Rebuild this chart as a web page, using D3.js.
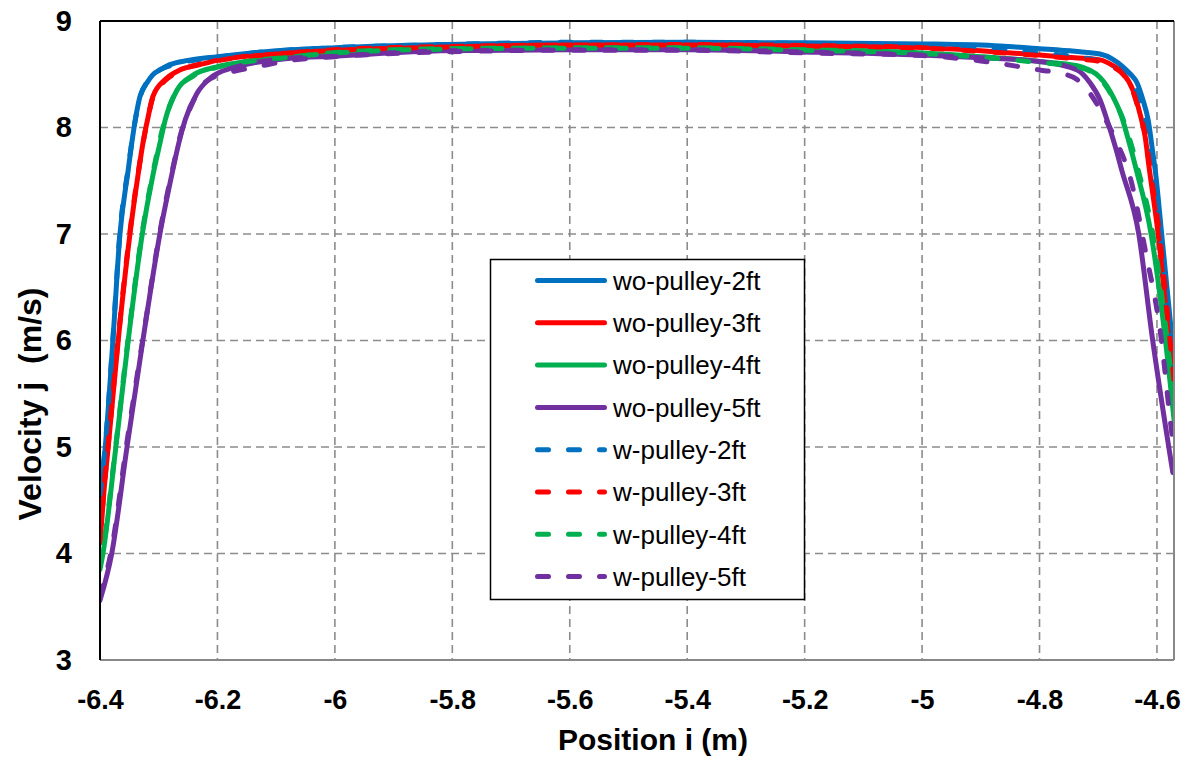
<!DOCTYPE html>
<html>
<head>
<meta charset="utf-8">
<script src="https://cdn.jsdelivr.net/npm/d3@7"></script>
<style>
  html, body { margin: 0; padding: 0; background: #fff; }
  svg { display: block; }
</style>
</head>
<body>
<svg id="chart" width="1186" height="763"></svg>
<script>
// ---------- DATA ----------
const seriesNames = ["wo-pulley-2ft","wo-pulley-3ft","wo-pulley-4ft","wo-pulley-5ft",
                     "w-pulley-2ft","w-pulley-3ft","w-pulley-4ft","w-pulley-5ft"];
const xTickValues = [-6.4,-6.2,-6.0,-5.8,-5.6,-5.4,-5.2,-5.0,-4.8,-4.6];
const yTickValues = [3,4,5,6,7,8,9];

// [position i (m), velocity j (m/s)]
const woPulley2ft = [[-6.400,4.53],[-6.391,5.00],[-6.378,6.00],[-6.366,7.00],[-6.352,7.60],[-6.346,7.85],[-6.339,8.10],[-6.332,8.29],[-6.320,8.42],[-6.311,8.49],[-6.295,8.55],[-6.281,8.59],[-6.250,8.63],[-6.200,8.665],[-6.100,8.72],[-6.000,8.75],[-5.820,8.78],[-5.600,8.795],[-5.400,8.80],[-5.200,8.795],[-5.000,8.785],[-4.867,8.765],[-4.800,8.74],[-4.740,8.715],[-4.697,8.69],[-4.675,8.64],[-4.658,8.57],[-4.645,8.50],[-4.634,8.42],[-4.624,8.26],[-4.615,8.07],[-4.607,7.76],[-4.603,7.60],[-4.592,7.00],[-4.578,6.22],[-4.568,5.70]];
const woPulley3ft = [[-6.400,4.10],[-6.393,4.60],[-6.386,5.00],[-6.369,6.00],[-6.349,7.00],[-6.334,7.60],[-6.327,7.85],[-6.318,8.10],[-6.310,8.29],[-6.289,8.45],[-6.264,8.54],[-6.230,8.59],[-6.201,8.63],[-6.100,8.69],[-6.000,8.73],[-5.820,8.76],[-5.600,8.775],[-5.400,8.78],[-5.200,8.77],[-5.000,8.75],[-4.900,8.72],[-4.800,8.68],[-4.740,8.655],[-4.697,8.635],[-4.675,8.58],[-4.658,8.51],[-4.641,8.35],[-4.629,8.13],[-4.620,7.91],[-4.614,7.65],[-4.598,7.00],[-4.581,6.07],[-4.568,5.35]];
const woPulley4ft = [[-6.400,3.85],[-6.395,4.00],[-6.373,5.00],[-6.352,6.00],[-6.328,7.00],[-6.310,7.55],[-6.298,7.85],[-6.289,8.07],[-6.269,8.35],[-6.242,8.49],[-6.201,8.57],[-6.150,8.62],[-6.076,8.66],[-6.000,8.705],[-5.820,8.74],[-5.600,8.75],[-5.400,8.75],[-5.200,8.73],[-5.000,8.70],[-4.900,8.665],[-4.800,8.62],[-4.736,8.58],[-4.697,8.47],[-4.675,8.29],[-4.660,8.10],[-4.650,7.91],[-4.635,7.60],[-4.610,7.00],[-4.587,6.07],[-4.568,5.10]];
const woPulley5ft = [[-6.400,3.56],[-6.380,4.00],[-6.354,5.00],[-6.327,6.00],[-6.298,7.00],[-6.276,7.60],[-6.266,7.85],[-6.255,8.07],[-6.235,8.32],[-6.213,8.46],[-6.174,8.56],[-6.076,8.65],[-6.000,8.67],[-5.820,8.72],[-5.600,8.73],[-5.400,8.73],[-5.200,8.71],[-5.000,8.68],[-4.900,8.655],[-4.800,8.62],[-4.736,8.54],[-4.714,8.42],[-4.697,8.26],[-4.685,8.07],[-4.671,7.82],[-4.660,7.60],[-4.631,7.00],[-4.609,6.07],[-4.573,4.76]];
const wPulley2ft = [[-6.400,4.55],[-6.391,5.02],[-6.378,6.02],[-6.366,7.02],[-6.352,7.62],[-6.339,8.10],[-6.332,8.28],[-6.311,8.48],[-6.281,8.58],[-6.200,8.66],[-6.100,8.72],[-6.000,8.75],[-5.800,8.78],[-5.600,8.80],[-5.400,8.80],[-5.200,8.79],[-5.000,8.77],[-4.900,8.745],[-4.800,8.70],[-4.740,8.665],[-4.700,8.625],[-4.680,8.58],[-4.660,8.52],[-4.645,8.44],[-4.632,8.30],[-4.620,8.08],[-4.612,7.85],[-4.606,7.63],[-4.595,7.10],[-4.589,6.69],[-4.571,5.75],[-4.568,5.60]];
const wPulley3ft = [[-6.400,4.12],[-6.393,4.62],[-6.386,5.02],[-6.369,6.02],[-6.349,7.02],[-6.334,7.61],[-6.318,8.10],[-6.310,8.28],[-6.289,8.44],[-6.264,8.53],[-6.201,8.625],[-6.100,8.69],[-6.000,8.725],[-5.820,8.755],[-5.600,8.775],[-5.400,8.775],[-5.200,8.765],[-5.000,8.745],[-4.900,8.715],[-4.800,8.675],[-4.740,8.645],[-4.697,8.62],[-4.675,8.57],[-4.658,8.50],[-4.641,8.34],[-4.629,8.12],[-4.619,7.90],[-4.612,7.62],[-4.596,7.00],[-4.579,6.07],[-4.568,5.45]];
const wPulley4ft = [[-6.400,3.88],[-6.395,4.03],[-6.373,5.02],[-6.352,6.02],[-6.328,7.02],[-6.310,7.57],[-6.289,8.08],[-6.269,8.35],[-6.242,8.48],[-6.201,8.565],[-6.076,8.66],[-6.000,8.70],[-5.820,8.735],[-5.600,8.745],[-5.400,8.745],[-5.200,8.725],[-5.000,8.695],[-4.900,8.66],[-4.800,8.61],[-4.736,8.57],[-4.697,8.46],[-4.675,8.28],[-4.658,8.08],[-4.647,7.90],[-4.632,7.60],[-4.607,7.00],[-4.584,6.07],[-4.568,5.25]];
const wPulley5ft = [[-6.400,3.60],[-6.380,4.05],[-6.354,5.05],[-6.326,6.05],[-6.297,7.05],[-6.276,7.62],[-6.262,7.95],[-6.245,8.20],[-6.225,8.40],[-6.200,8.49],[-6.170,8.53],[-6.133,8.57],[-6.076,8.63],[-6.000,8.665],[-5.820,8.71],[-5.600,8.725],[-5.400,8.725],[-5.200,8.70],[-5.000,8.675],[-4.900,8.625],[-4.867,8.60],[-4.800,8.54],[-4.765,8.51],[-4.736,8.45],[-4.714,8.32],[-4.690,8.10],[-4.665,7.82],[-4.646,7.54],[-4.620,6.85],[-4.594,6.07],[-4.574,5.10],[-4.571,4.98]];

const seriesData = [woPulley2ft, woPulley3ft, woPulley4ft, woPulley5ft,
                    wPulley2ft, wPulley3ft, wPulley4ft, wPulley5ft];
const seriesColors = ["#0070C0","#FF0000","#00B050","#7030A0",
                      "#0070C0","#FF0000","#00B050","#7030A0"];
const seriesDashed = [false,false,false,false,true,true,true,true];

// ---------- LAYOUT ----------
const svg = d3.select("#chart");
const plot = {left:100, right:1174, top:21, bottom:660};
const x = d3.scaleLinear().domain([-6.4, -4.571]).range([plot.left, plot.right]);
const y = d3.scaleLinear().domain([3, 9]).range([plot.bottom, plot.top]);
const FONT = "'Liberation Sans', Arial, sans-serif";

svg.append("rect").attr("width",1186).attr("height",763).attr("fill","#fff");

// gridlines
const grid = svg.append("g");
grid.selectAll("line.vg").data(xTickValues.filter(d => d > -6.39))
  .join("line").attr("class","vg")
  .attr("x1", d => x(d)).attr("x2", d => x(d))
  .attr("y1", plot.top).attr("y2", plot.bottom)
  .attr("stroke","#8c8c8c").attr("stroke-width",1.6).attr("stroke-dasharray","8,5");
grid.selectAll("line.hg").data(yTickValues.filter(d => d > 3 && d < 9))
  .join("line").attr("class","hg")
  .attr("x1", plot.left).attr("x2", plot.right)
  .attr("y1", d => y(d)).attr("y2", d => y(d))
  .attr("stroke","#8c8c8c").attr("stroke-width",1.6).attr("stroke-dasharray","8,5");

// clip
svg.append("clipPath").attr("id","clip").append("rect")
  .attr("x", plot.left).attr("y", plot.top)
  .attr("width", plot.right - plot.left).attr("height", plot.bottom - plot.top);

const line = d3.line().x(d => x(d[0])).y(d => y(d[1])).curve(d3.curveMonotoneX);
const lines = svg.append("g").attr("clip-path","url(#clip)");
seriesData.forEach((data, i) => {
  lines.append("path")
    .attr("d", line(data))
    .attr("fill","none")
    .attr("stroke", seriesColors[i])
    .attr("stroke-width", 5)
    .attr("stroke-linecap","round")
    .attr("stroke-linejoin","round")
    .attr("stroke-dasharray", seriesDashed[i] ? "11,20" : null);
});

// frame
svg.append("line").attr("x1",plot.left).attr("x2",plot.right).attr("y1",plot.bottom).attr("y2",plot.bottom)
  .attr("stroke","#888").attr("stroke-width",2);
svg.append("line").attr("x1",plot.right).attr("x2",plot.right).attr("y1",plot.top).attr("y2",plot.bottom)
  .attr("stroke","#888").attr("stroke-width",2);
svg.append("line").attr("x1",plot.left).attr("x2",plot.right).attr("y1",plot.top).attr("y2",plot.top)
  .attr("stroke","#000").attr("stroke-width",2);
svg.append("line").attr("x1",plot.left).attr("x2",plot.left).attr("y1",plot.top).attr("y2",plot.bottom)
  .attr("stroke","#000").attr("stroke-width",2);

// axes (labels only)
const fmt = d => String(+d.toFixed(1));
const xAxis = svg.append("g").attr("transform",`translate(0,${plot.bottom})`)
  .call(d3.axisBottom(x).tickValues(xTickValues).tickFormat(fmt).tickSize(0).tickPadding(30));
xAxis.select(".domain").remove();
xAxis.selectAll("text").attr("font-family",FONT).attr("font-weight","bold")
  .attr("font-size",27).attr("fill","#000");

const yAxis = svg.append("g").attr("transform",`translate(${plot.left},0)`)
  .call(d3.axisLeft(y).tickValues(yTickValues).tickFormat(fmt).tickSize(0).tickPadding(28));
yAxis.select(".domain").remove();
yAxis.selectAll("text").attr("font-family",FONT).attr("font-weight","bold")
  .attr("font-size",29).attr("fill","#000");

// axis titles
svg.append("text").attr("x",653).attr("y",750).attr("text-anchor","middle")
  .attr("font-family",FONT).attr("font-weight","bold").attr("font-size",30)
  .text("Position i (m)");
svg.append("text").attr("transform","translate(41,404) rotate(-90)").attr("text-anchor","middle")
  .attr("font-family",FONT).attr("font-weight","bold").attr("font-size",32)
  .attr("xml:space","preserve").style("white-space","pre")
  .text("Velocity j  (m/s)");

// legend
const legend = svg.append("g");
legend.append("rect").attr("x",490.5).attr("y",259.5).attr("width",314).attr("height",340)
  .attr("fill","#fff").attr("stroke","#000").attr("stroke-width",1.5);
const rowY0 = 280.5, rowStep = 42.3;
seriesNames.forEach((name, i) => {
  const ry = rowY0 + i*rowStep;
  legend.append("line").attr("x1",537.5).attr("x2",604.5).attr("y1",ry).attr("y2",ry)
    .attr("stroke",seriesColors[i]).attr("stroke-width",5).attr("stroke-linecap","round")
    .attr("stroke-dasharray", seriesDashed[i] ? "11,20" : null);
  legend.append("text").attr("x",613).attr("y",ry).attr("dy","0.36em")
    .attr("font-family",FONT).attr("font-size",26).attr("fill","#000")
    .text(name);
});
</script>
</body>
</html>
